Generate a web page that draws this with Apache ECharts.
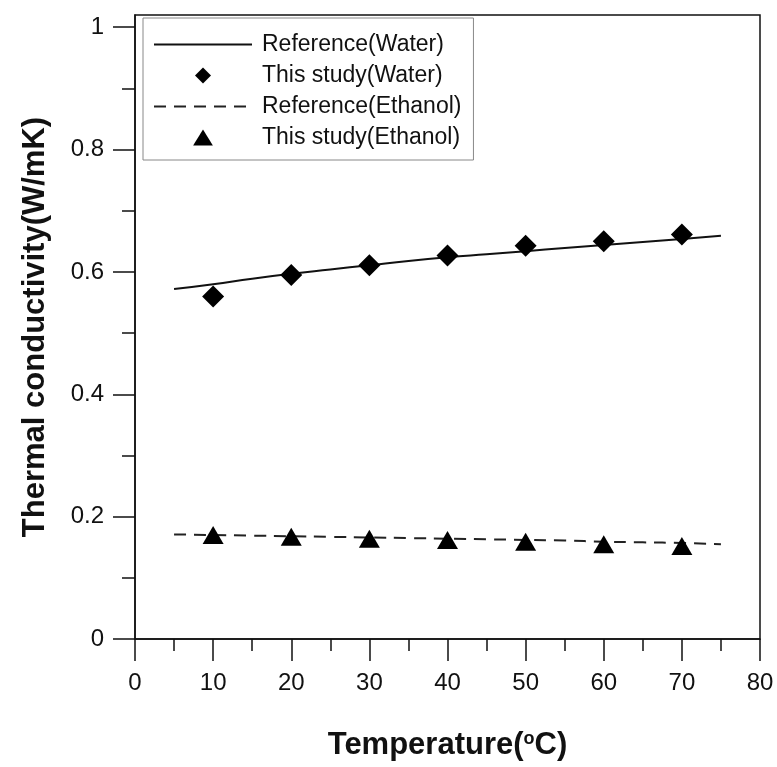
<!DOCTYPE html>
<html>
<head>
<meta charset="utf-8">
<script src="https://cdn.jsdelivr.net/npm/echarts@6/dist/echarts.min.js"></script>
<style>
  html, body { margin: 0; padding: 0; background: #fff; }
  #chart { width: 777px; height: 767px; }
</style>
</head>
<body>
<div id="chart"></div>
<script>
// temperature (°C) and thermal conductivity (W/mK)
const refTemps = [5, 10, 15, 20, 25, 30, 35, 40, 45, 50, 55, 60, 65, 70, 75]
const refWater = [0.572, 0.580, 0.589, 0.597, 0.604, 0.611, 0.618, 0.624, 0.629, 0.634, 0.639, 0.644, 0.649, 0.654, 0.659]
const refEthanol = [0.171, 0.170, 0.169, 0.168, 0.167, 0.166, 0.165, 0.164, 0.163, 0.162, 0.161, 0.159, 0.158, 0.157, 0.155]

const studyTemps = [10, 20, 30, 40, 50, 60, 70]
const studyWater = [0.560, 0.595, 0.611, 0.627, 0.643, 0.650, 0.661]
const studyEthanol = [0.170, 0.167, 0.164, 0.162, 0.159, 0.155, 0.152]

const yTickLabels = [0, 0.2, 0.4, 0.6, 0.8, 1]
const yMinorTicks = [0.1, 0.3, 0.5, 0.7, 0.9]

const pairs = ( xs, ys ) => xs.map( ( x, i ) => [x, ys[i]] )

// path icons so the legend keeps their aspect instead of stretching them
const diamondIcon = 'path://M0,-1L1,0L0,1L-1,0Z'
const triangleIcon = 'path://M0,0L10.5,17L-10.5,17Z'

const chart = echarts.init( document.getElementById( 'chart' ) )

const labelFont = {
  fontFamily : 'Liberation Sans, Arial, sans-serif',
  fontSize : 24,
  color : '#111'
}
const titleFont = {
  fontFamily : 'Liberation Sans, Arial, sans-serif',
  fontSize : 31,
  fontWeight : 'bold',
  color : '#111'
}
const tickStyle = { color : '#111', width : 1.5 }

chart.setOption( {
  animation : false,
  backgroundColor : '#fff',
  grid : {
    left : 135,
    right : 17,
    top : 15,
    bottom : 128,
    show : true,
    borderColor : '#111',
    borderWidth : 1.5
  },
  legend : {
    orient : 'vertical',
    left : 143,
    top : 18,
    padding : [15, 12, 11, 10],
    itemWidth : 98,
    itemHeight : 16,
    itemGap : 8,
    symbolKeepAspect : true,
    borderColor : '#888',
    borderWidth : 1,
    backgroundColor : '#fff',
    textStyle : {
      fontFamily : 'Liberation Sans, Arial, sans-serif',
      fontSize : 23,
      lineHeight : 23,
      color : '#111',
      padding : [0, 0, 0, 5]
    },
    data : [
      { name : 'Reference(Water)' },
      { name : 'This study(Water)', icon : diamondIcon },
      { name : 'Reference(Ethanol)' },
      { name : 'This study(Ethanol)', icon : triangleIcon }
    ]
  },
  xAxis : {
    type : 'value',
    min : 0,
    max : 80,
    interval : 10,
    name : 'Temperature({sup|o}C)',
    nameLocation : 'middle',
    nameGap : 91,
    nameTextStyle : {
      ...titleFont,
      verticalAlign : 'top',
      rich : {
        sup : {
          fontFamily : 'Liberation Sans, Arial, sans-serif',
          fontSize : 18,
          color : '#111',
          verticalAlign : 'top',
          padding : [0, 0, 12, 0]
        }
      }
    },
    axisLine : { lineStyle : { color : '#111', width : 1.5 } },
    axisTick : { inside : false, length : 22, lineStyle : tickStyle },
    minorTick : { show : true, splitNumber : 2, length : 12, lineStyle : tickStyle },
    splitLine : { show : false },
    axisLabel : { ...labelFont, margin : 32 }
  },
  yAxis : [
    {
      type : 'value',
      min : 0,
      max : 1.02,
      name : 'Thermal conductivity(W/mK)',
      nameLocation : 'middle',
      nameGap : 84,
      nameTextStyle : titleFont,
      axisLine : { lineStyle : { color : '#111', width : 1.5 } },
      axisTick : {
        inside : false,
        length : 22,
        customValues : yTickLabels,
        lineStyle : tickStyle
      },
      splitLine : { show : false },
      axisLabel : { ...labelFont, margin : 31, customValues : yTickLabels }
    },
    {
      type : 'value',
      min : 0,
      max : 1.02,
      position : 'left',
      axisLine : { show : false },
      axisTick : {
        show : true,
        inside : false,
        length : 13,
        customValues : yMinorTicks,
        lineStyle : tickStyle
      },
      axisLabel : { show : false },
      splitLine : { show : false }
    }
  ],
  series : [
    {
      name : 'Reference(Water)',
      type : 'line',
      smooth : true,
      symbol : 'none',
      data : pairs( refTemps, refWater ),
      lineStyle : { color : '#111', width : 2 },
      itemStyle : { color : 'rgba(0,0,0,0)' },
      z : 2
    },
    {
      name : 'This study(Water)',
      type : 'scatter',
      symbol : 'diamond',
      symbolSize : 22,
      data : pairs( studyTemps, studyWater ),
      itemStyle : { color : '#000', opacity : 1 },
      z : 3
    },
    {
      name : 'Reference(Ethanol)',
      type : 'line',
      smooth : true,
      symbol : 'none',
      data : pairs( refTemps, refEthanol ),
      lineStyle : { color : '#222', width : 2, type : [12, 8] },
      itemStyle : { color : 'rgba(0,0,0,0)' },
      z : 2
    },
    {
      name : 'This study(Ethanol)',
      type : 'scatter',
      symbol : 'triangle',
      symbolSize : [21, 18],
      data : pairs( studyTemps, studyEthanol ),
      itemStyle : { color : '#000', opacity : 1 },
      z : 3
    }
  ]
} )

window.addEventListener( 'resize', () => chart.resize() )
</script>
</body>
</html>
